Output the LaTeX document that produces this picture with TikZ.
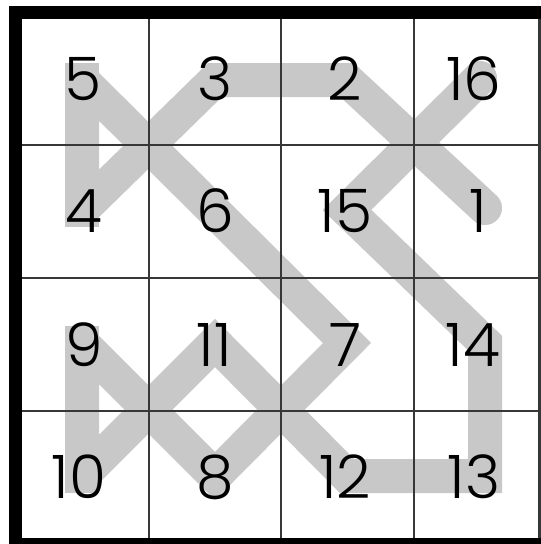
\documentclass[tikz,border=0pt]{standalone}
\usepackage{fontspec}
\setmainfont{Poppins Light}
\definecolor{trailgray}{RGB}{200,200,200}
\definecolor{gridgray}{RGB}{55,55,55}
\begin{document}
\begin{tikzpicture}[x=1pt,y=-1pt,
  trail/.style={draw=trailgray,line width=34pt,line join=miter,miter limit=2},
  gridline/.style={draw=gridgray,line width=2.2pt},
  num/.style={font=\fontsize{60}{60}\selectfont,inner sep=0pt,anchor=base,text=black}]
\useasboundingbox (0,0) rectangle (541,544);
\fill[white] (0,0) rectangle (541,544);
% path vertices
\coordinate (p1) at (485,208);
\coordinate (p2) at (347,80);
\coordinate (p3) at (215,80);
\coordinate (p4) at (82,210);
\coordinate (p5) at (82,80);
\coordinate (p6) at (214.5,211.5);
\coordinate (p7) at (347,343);
\coordinate (p8) at (215,476);
\coordinate (p9) at (82,343);
\coordinate (p10) at (82,476);
\coordinate (p11) at (215,343);
\coordinate (p12) at (347,476);
\coordinate (p13) at (485,476);
\coordinate (p14) at (485,343);
\coordinate (p15) at (347,210);
\coordinate (p16) at (480,78);
\draw[trail,line cap=round] (p1) -- (p2) -- (p3) -- (p4) -- (p5) -- (p6) -- (p7) -- (p8) -- (p9) -- (p10) -- (p11) -- (p12) -- (p13) -- (p14) -- (p15) -- (p16);
\draw[trail,line cap=rect] (p4) -- (p5);
\draw[trail,line cap=rect] (p9) -- (p10);
% grid lines
\coordinate (v1t) at (149,19); \coordinate (v1b) at (149,538);
\coordinate (v2t) at (281,19); \coordinate (v2b) at (281,538);
\coordinate (v3t) at (414,19); \coordinate (v3b) at (414,538);
\coordinate (v4t) at (539.5,19); \coordinate (v4b) at (539.5,538);
\coordinate (h1l) at (22,145); \coordinate (h1r) at (540.5,145);
\coordinate (h2l) at (22,278); \coordinate (h2r) at (540.5,278);
\coordinate (h3l) at (22,411); \coordinate (h3r) at (540.5,411);
\draw[gridline] (v1t) -- (v1b);
\draw[gridline] (v2t) -- (v2b);
\draw[gridline] (v3t) -- (v3b);
\draw[gridline] (v4t) -- (v4b);
\draw[gridline] (h1l) -- (h1r);
\draw[gridline] (h2l) -- (h2r);
\draw[gridline] (h3l) -- (h3r);
% thick border
\fill[black] (9,6) rectangle (22,544);
\fill[black] (9,6) rectangle (541,19);
\fill[black] (9,537.5) rectangle (541,544);
% numbers
\node[num] (n5) at (83,100) {5};
\node[num] (n3) at (215,100) {3};
\node[num] (n2) at (345,100) {2};
\node[num] (n16) at (474,100) {16};
\node[num] (n4) at (84,232) {4};
\node[num] (n6) at (215,232) {6};
\node[num] (n15) at (345,232) {15};
\node[num] (n1) at (478,232) {1};
\node[num] (n9) at (84,366) {9};
\node[num] (n11) at (214,366) {11};
\node[num] (n7) at (345,366) {7};
\node[num] (n14) at (473,366) {14};
\node[num] (n10) at (79,498) {10};
\node[num] (n8) at (215,498) {8};
\node[num] (n12) at (345,498) {12};
\node[num] (n13) at (474,498) {13};
\end{tikzpicture}
\end{document}
